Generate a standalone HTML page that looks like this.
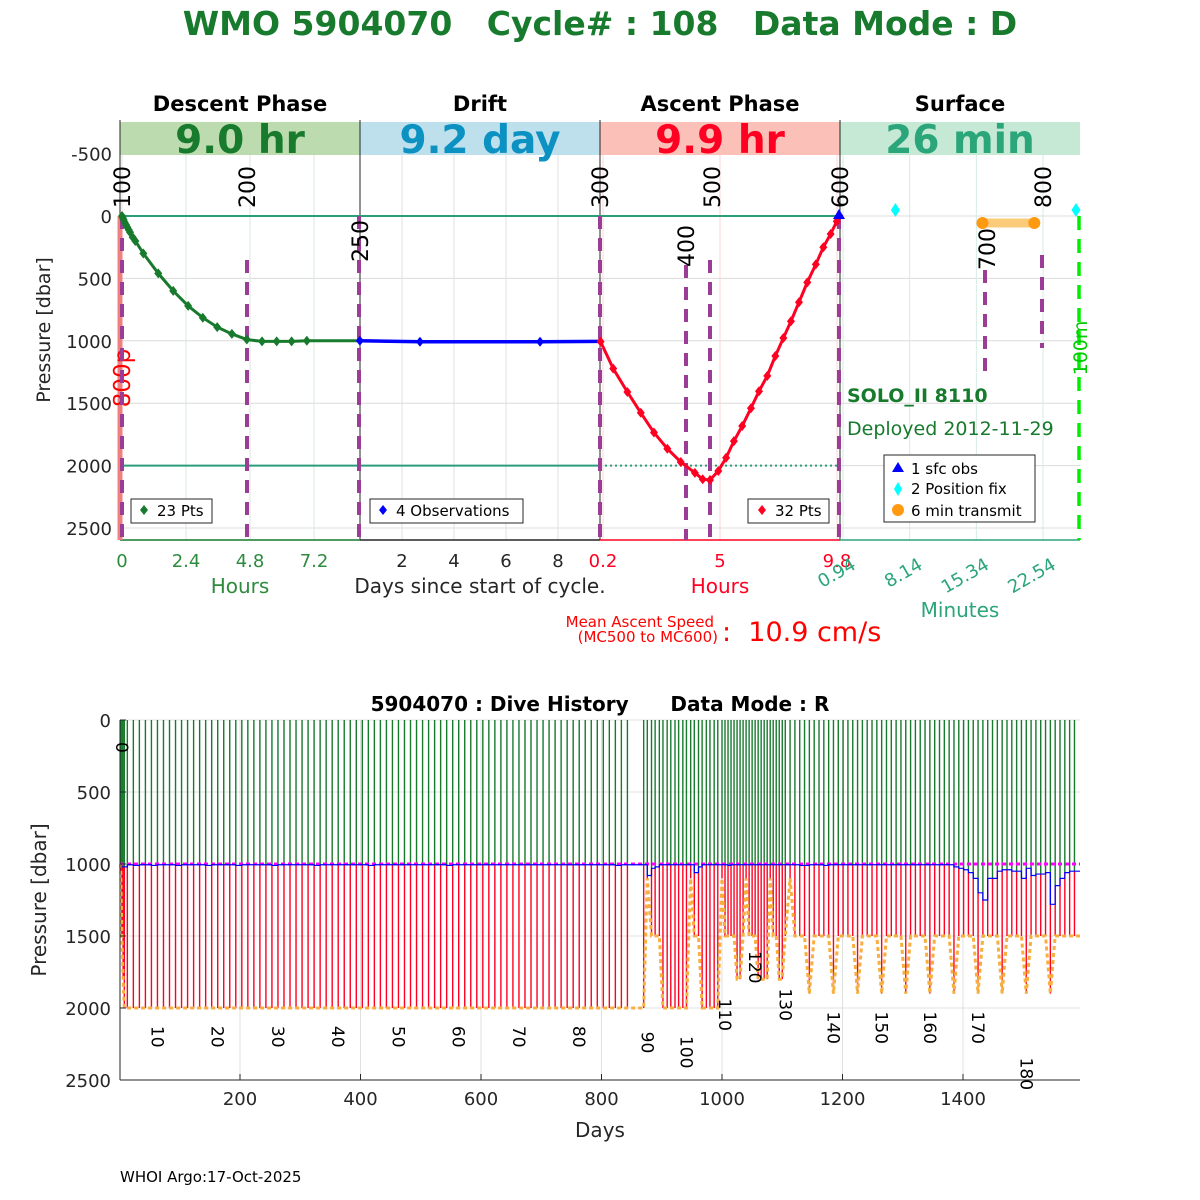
<!DOCTYPE html>
<html><head><meta charset="utf-8"><style>
html,body{margin:0;padding:0;background:#fff;}
svg{display:block;font-family:"DejaVu Sans","Liberation Sans",sans-serif;}
</style></head><body>
<svg id="chart" width="1200" height="1200" viewBox="0 0 1200 1200" xmlns="http://www.w3.org/2000/svg">
<defs><clipPath id="histclip"><rect x="119" y="719" width="962" height="362"/></clipPath></defs>
</svg>
<script>
// ---------- top chart data ----------
const yTicksTop = [-500, 0, 500, 1000, 1500, 2000, 2500];
const descentHours = [0,0.03,0.06,0.1,0.15,0.2,0.25,0.3,0.4,0.5,0.8,1.36,1.92,2.48,3.03,3.57,4.12,4.68,5.25,5.8,6.36,6.93];
const descentPres = [0,15,30,50,70,90,110,130,170,200,300,460,600,720,815,890,945,990,1005,1005,1005,1000];
const driftDays = [0.38,2.69,7.31,9.62];
const driftPres = [1000,1008,1008,1005];
const ascentHours = [0.1,0.62,1.2,1.75,2.29,2.84,3.39,3.97,4.29,4.59,4.93,5.25,5.57,5.91,6.27,6.6,6.94,7.27,7.6,7.91,8.24,8.58,8.93,9.24,9.54,9.79,9.9];
const ascentPres = [1007,1223,1410,1577,1735,1865,1971,2058,2109,2115,2043,1937,1804,1683,1540,1404,1281,1122,978,843,691,532,388,250,144,43,0];
const descentTicks = ["0","2.4","4.8","7.2"];
const descentTickVals = [0,2.4,4.8,7.2];
const driftTickVals = [2,4,6,8];
const ascentTickVals = [0.2,5,9.8];
const surfaceTickVals = [0.94,8.14,15.34,22.54];
const fixMinutes = [6.6,26.1];
const transmitMinutes = [16.0,21.6];

// ---------- dive history data (one row = 10 cycles) ----------
const cycleDays = [
2,4,6,8,13,23,33,43,53,63,
73,83,93,103,113,123,133,143,153,163,
173,183,193,203,213,223,233,243,253,263,
273,283,293,303,313,323,333,343,353,363,
373,383,393,403,413,423,433,443,453,463,
473,483,493,503,513,523,533,543,553,563,
573,583,593,603,613,623,633,643,653,663,
673,683,693,703,713,723,733,743,753,763,
773,783,793,803,813,823,833,843,870,876,
883,889,896,902,909,915,922,928,935,941,
948,954,961,967,974,980,987,993,1000,1005,
1010,1015,1020,1025,1030,1035,1040,1045,1050,1055,
1060,1065,1070,1075,1080,1085,1090,1095,1100,1105,
1113,1121,1129,1137,1145,1153,1161,1169,1177,1185,
1193,1201,1209,1217,1225,1233,1241,1249,1257,1265,
1273,1281,1289,1297,1305,1313,1321,1329,1337,1345,
1353,1361,1369,1377,1385,1393,1401,1409,1417,1425,
1433,1441,1449,1457,1465,1473,1481,1489,1497,1505,
1513,1521,1529,1537,1545,1553,1561,1569,1577,1585];
const profilePres = [
1050,1500,1800,2000,2000,2000,2000,2000,2000,2000,
2000,2000,2000,2000,2000,2000,2000,2000,2000,2000,
2000,2000,2000,2000,2000,2000,2000,2000,2000,2000,
2000,2000,2000,2000,2000,2000,2000,2000,2000,2000,
2000,2000,2000,2000,2000,2000,2000,2000,2000,2000,
2000,2000,2000,2000,2000,2000,2000,2000,2000,2000,
2000,2000,2000,2000,2000,2000,2000,2000,2000,2000,
2000,2000,2000,2000,2000,2000,2000,2000,2000,2000,
2000,2000,2000,2000,2000,2000,2000,2000,2000,1100,
1500,1500,1500,2000,2000,2000,2000,2000,2000,2000,
1100,1500,1500,2000,2000,2000,2000,2000,1100,1500,
1500,1500,1500,1800,1800,1500,1100,1500,1500,1500,
1800,1800,1800,1800,1100,1500,1500,1800,1800,1500,
1100,1500,1500,1500,1900,1500,1500,1500,1500,1900,
1500,1500,1500,1500,1900,1500,1500,1500,1500,1900,
1500,1500,1500,1500,1900,1500,1500,1500,1500,1900,
1500,1500,1500,1500,1900,1500,1500,1500,1500,1900,
1500,1500,1500,1500,1900,1500,1500,1500,1500,1900,
1500,1500,1500,1500,1900,1500,1500,1500,1500,1500];
const parkPres = [
1020,1020,1020,1020,1005,1010,1005,1005,1010,1005,
1005,1005,1010,1005,1005,1005,1005,1010,1005,1005,
1005,1005,1010,1005,1005,1005,1005,1005,1010,1005,
1005,1005,1005,1005,1005,1010,1005,1005,1005,1005,
1005,1005,1005,1005,1010,1005,1005,1005,1005,1005,
1005,1005,1005,1005,1005,1005,1005,1010,1005,1005,
1005,1005,1005,1005,1005,1005,1005,1005,1005,1005,
1005,1005,1005,1005,1005,1005,1005,1005,1005,1005,
1005,1005,1005,1005,1005,1010,1005,1005,1005,1080,
1030,1020,1005,1005,1005,1005,1005,1005,1005,1005,
1005,1060,1020,1005,1005,1005,1005,1005,1005,1005,
1010,1005,1005,1005,1005,1005,1005,1005,1005,1005,
1005,1005,1005,1005,1005,1005,1005,1005,1005,1005,
1005,1005,1010,1010,1005,1005,1005,1010,1005,1005,
1005,1005,1005,1005,1005,1005,1005,1005,1005,1005,
1005,1005,1005,1005,1005,1005,1005,1005,1005,1005,
1005,1005,1005,1005,1020,1030,1040,1060,1100,1200,
1250,1100,1100,1050,1040,1040,1050,1050,1100,1030,
1080,1070,1070,1060,1280,1150,1100,1060,1050,1050];
const cycleLabels = [10,20,30,40,50,60,70,80,90,100,110,120,130,140,150,160,170,180];
const cycleLabelPres = [2180,2180,2180,2180,2180,2180,2180,2180,2220,2250,1990,1660,1920,2080,2080,2080,2080,2400];
const yTicksBottom = [0,500,1000,1500,2000,2500];
const xTicksBottom = [200,400,600,800,1000,1200,1400];

const NS = "http://www.w3.org/2000/svg";
const svg = document.getElementById('chart');
function mk(tag, attrs, nm, parent) {
  const el = document.createElementNS(NS, tag);
  for (const k in attrs) el.setAttribute(k, attrs[k]);
  
  
  (parent || svg).appendChild(el);
  return el;
}
function txt(x, y, s, nm, style, rot) {
  const el = mk('text', {x: x, y: y}, nm);
  el.setAttribute('style', style);
  if (rot !== undefined) el.setAttribute('transform', 'rotate(' + rot + ' ' + x + ' ' + y + ')');
  el.textContent = s;
  return el;
}
function ln(x1, y1, x2, y2, stroke, w, nm, dash, parent) {
  const a = {x1: x1, y1: y1, x2: x2, y2: y2, stroke: stroke, 'stroke-width': w};
  if (dash) a['stroke-dasharray'] = dash;
  return mk('line', a, nm, parent);
}

// ---------- top scales ----------
const Y = p => 216 + p * 0.1248;
const XD = h => 122 + h * 26.67;
const XF = d => 350 + d * 26;
const XA = h => 603 + (h - 0.2) * 24.375;
const XS = m => 843 + (m - 0.94) * 9.26;

txt(600, 35, "WMO 5904070   Cycle# : 108   Data Mode : D", "main-title", "font-size:33px;font-weight:bold;fill:#177a2d;text-anchor:middle;white-space:pre");

const panels = [[120,"Descent Phase","9.0 hr","#bcdcb0","#177a2d"],[360,"Drift","9.2 day","#bde0ec","#0b91c2"],[600,"Ascent Phase","9.9 hr","#fbc0b8","#ff0022"],[840,"Surface","26 min","#c6e9d6","#2ba57a"]];
panels.forEach((p, i) => {
  txt(p[0] + 120, 111, p[1], "phase-heading", "font-size:21px;font-weight:bold;fill:#000;text-anchor:middle");
  mk('rect', {x: p[0], y: 122, width: 240, height: 33, fill: p[3]}, "phase-band");
  txt(p[0] + 120, 153, p[2], "phase-duration", "font-size:39px;font-weight:bold;fill:" + p[4] + ";text-anchor:middle");
});

yTicksTop.forEach(v => { if (v > -500) ln(120, Y(v), 1080, Y(v), "#dcdcdc", 1, "y-grid"); });
descentTickVals.forEach(v => ln(XD(v), 155, XD(v), 540, "#d8eadb", 1, "x-grid-descent"));
driftTickVals.forEach(v => ln(XF(v), 155, XF(v), 540, "#e2e2e2", 1, "x-grid-drift"));
ascentTickVals.forEach(v => ln(XA(v), 155, XA(v), 540, "#fbd4d4", 1, "x-grid-ascent"));
surfaceTickVals.forEach(v => ln(XS(v), 155, XS(v), 540, "#d6ebe4", 1, "x-grid-surface"));

yTicksTop.forEach(v => txt(112, Y(v) + 7, String(v), "y-tick-label", "font-size:18px;fill:#262626;text-anchor:end"));
txt(50, 330, "Pressure [dbar]", "y-axis-title", "font-size:19px;fill:#262626;text-anchor:middle", -90);

ln(120, 120, 120, 540, "#262626", 1, "y-axis-line");
ln(360, 120, 360, 540, "#262626", 1, "drift-divider");
ln(600, 120, 600, 540, "#262626", 1, "ascent-divider");
ln(840, 120, 840, 540, "#262626", 1, "surface-divider");
ln(120, 540, 360, 540, "#177a2d", 1.5, "x-axis-descent");
ln(360, 540, 600, 540, "#262626", 1.5, "x-axis-drift");
ln(600, 540, 840, 540, "#ff0022", 1.5, "x-axis-ascent");
ln(840, 540, 1080, 540, "#2ba57a", 1.5, "x-axis-surface");

ln(120, Y(0), 840, Y(0), "#2a9d7a", 2, "surface-line");
ln(120, Y(2000), 600, Y(2000), "#2a9d7a", 2, "profile-target-line");
ln(600, Y(2000), 840, Y(2000), "#2a9d7a", 2, "profile-target-line-dotted", "2 3");
ln(120, Y(0), 120, 540, "#f08080", 5, "red-start-bar");
txt(130, 378, "800p", "park-label", "font-size:23px;fill:#ff0000;text-anchor:middle", -90);

const pd = "#9b3c96";
[[122,216],[247,260],[359,216],[600,216],[686,265],[710,260],[839,216]].forEach(a => ln(a[0], a[1], a[0], 540, pd, 4, "event-marker", "13 9"));
ln(985, 270, 985, 380, pd, 4, "event-marker", "13 9");
ln(1042, 255, 1042, 348, pd, 4, "event-marker", "13 9");
ln(1079, 216, 1079, 540, "#00ee00", 3.5, "depth-100m-line", "14 9");
txt(1087, 348, "100m", "depth-100m-label", "font-size:19px;fill:#00cc00;text-anchor:middle", -90);

[[130,"100",166],[255,"200",166],[368,"250",220],[608,"300",166],[694,"400",225],[720,"500",166],[848,"600",166],[995,"700",228],[1051,"800",166]].forEach(a => {
  txt(a[0], a[2], a[1], "event-number", "font-size:22px;fill:#000;text-anchor:end", -90);
});

mk('polyline', {points: descentHours.map((h, i) => XD(h) + ',' + Y(descentPres[i])).join(' ') + ' ' + XD(9) + ',' + Y(1000), fill: 'none', stroke: '#177a2d', 'stroke-width': 3}, "descent-line");
descentHours.forEach((h, i) => mk('path', {d: 'M' + XD(h) + ' ' + (Y(descentPres[i]) - 5) + 'l4 5l-4 5l-4 -5z', fill: '#177a2d'}, "descent-point"));
mk('polyline', {points: driftDays.map((d, i) => XF(d) + ',' + Y(driftPres[i])).join(' '), fill: 'none', stroke: '#0000ff', 'stroke-width': 3.5}, "drift-line");
driftDays.slice(0, 3).forEach((d, i) => mk('path', {d: 'M' + XF(d) + ' ' + (Y(driftPres[i]) - 5) + 'l4 5l-4 5l-4 -5z', fill: '#0000ff'}, "drift-point"));
mk('polyline', {points: ascentHours.map((h, i) => XA(h) + ',' + Y(ascentPres[i])).join(' '), fill: 'none', stroke: '#ff0022', 'stroke-width': 3}, "ascent-line");
ascentHours.forEach((h, i) => mk('path', {d: 'M' + XA(h) + ' ' + (Y(ascentPres[i]) - 5) + 'l4 5l-4 5l-4 -5z', fill: '#ff0022'}, "ascent-point"));
mk('path', {d: 'M839 209l6 10h-12z', fill: '#0000ff'}, "sfc-obs-marker");
fixMinutes.forEach(m => mk('path', {d: 'M' + XS(m) + ' 203l4.5 7l-4.5 7l-4.5 -7z', fill: '#00ffff'}, "position-fix-marker"));
ln(XS(transmitMinutes[0]), 223, XS(transmitMinutes[1]), 223, "#fbcb7a", 9, "transmit-bar");
transmitMinutes.forEach(m => mk('circle', {cx: XS(m), cy: 223, r: 6, fill: '#ff9a10'}, "transmit-marker"));

function legendBox(x, y, w, h) { mk('rect', {x: x, y: y, width: w, height: h, fill: '#fff', stroke: '#262626', 'stroke-width': 1}, "legend-box"); }
legendBox(131, 499, 81, 24);
mk('path', {d: 'M144 505l4 5l-4 5l-4 -5z', fill: '#177a2d'}, "legend-descent-marker");
txt(157, 516, "23 Pts", "legend-descent-text", "font-size:15px;fill:#000");
legendBox(370, 499, 153, 24);
mk('path', {d: 'M383 505l4 5l-4 5l-4 -5z', fill: '#0000ff'}, "legend-drift-marker");
txt(396, 516, "4 Observations", "legend-drift-text", "font-size:15px;fill:#000");
legendBox(748, 499, 81, 24);
mk('path', {d: 'M762 505l4 5l-4 5l-4 -5z', fill: '#ff0022'}, "legend-ascent-marker");
txt(775, 516, "32 Pts", "legend-ascent-text", "font-size:15px;fill:#000");
legendBox(884, 455, 151, 67);
mk('path', {d: 'M898 462l6 10h-12z', fill: '#0000ff'}, "legend-sfc-marker");
txt(911, 474, "1 sfc obs", "legend-sfc-text", "font-size:15px;fill:#000");
mk('path', {d: 'M898 482l4 7l-4 7l-4 -7z', fill: '#00ffff'}, "legend-fix-marker");
txt(911, 494, "2 Position fix", "legend-fix-text", "font-size:15px;fill:#000");
mk('circle', {cx: 898, cy: 510, r: 6, fill: '#ff9a10'}, "legend-transmit-marker");
txt(911, 516, "6 min transmit", "legend-transmit-text", "font-size:15px;fill:#000");

txt(847, 402, "SOLO_II 8110", "float-model", "font-size:19px;font-weight:bold;fill:#177a2d");
txt(847, 435, "Deployed 2012-11-29", "deploy-date", "font-size:19px;fill:#177a2d");

descentTickVals.forEach((v, i) => txt(XD(v), 567, descentTicks[i], "descent-tick", "font-size:18px;fill:#2e8b3e;text-anchor:middle"));
driftTickVals.forEach(v => txt(XF(v), 567, String(v), "drift-tick", "font-size:18px;fill:#262626;text-anchor:middle"));
ascentTickVals.forEach(v => txt(XA(v), 567, String(v), "ascent-tick", "font-size:18px;fill:#ff0022;text-anchor:middle"));
surfaceTickVals.forEach(v => txt(XS(v) + 14, 568, String(v), "surface-tick", "font-size:18px;fill:#2ba57a;text-anchor:end", -30));
txt(240, 593, "Hours", "descent-x-title", "font-size:20px;fill:#2e8b3e;text-anchor:middle");
txt(480, 593, "Days since start of cycle.", "drift-x-title", "font-size:20px;fill:#262626;text-anchor:middle");
txt(720, 593, "Hours", "ascent-x-title", "font-size:20px;fill:#ff0022;text-anchor:middle");
txt(960, 617, "Minutes", "surface-x-title", "font-size:20px;fill:#2ba57a;text-anchor:middle");
txt(714, 627, "Mean Ascent Speed", "ascent-speed-label", "font-size:15px;fill:#ff0000;text-anchor:end");
txt(718, 642, "(MC500 to MC600)", "ascent-speed-sublabel", "font-size:15px;fill:#ff0000;text-anchor:end");
txt(722, 641, ":  10.9 cm/s", "ascent-speed-value", "font-size:27px;fill:#ff0000;white-space:pre");

// ---------- bottom chart ----------
const XB = d => 119.5 + d * 0.6025;
const YB = p => 720 + p * 0.144;
txt(600, 711, "5904070 : Dive History      Data Mode : R", "history-title", "font-size:20px;font-weight:bold;fill:#000;text-anchor:middle;white-space:pre");
yTicksBottom.forEach(v => ln(120, YB(v), 1080, YB(v), "#e0e0e0", 1, "history-y-grid"));
xTicksBottom.forEach(v => ln(XB(v), 720, XB(v), 1080, "#e0e0e0", 1, "history-x-grid"));
const plotG = mk('g', {'clip-path': 'url(#histclip)'}, "history-plot-area");
const nCyc = Math.min(cycleDays.length, profilePres.length, parkPres.length);
for (let i = 0; i < nCyc; i++) {
  const d = cycleDays[i];
  ln(XB(d), YB(0), XB(d), YB(parkPres[i]), "#177a2d", 1.4, "descent-stem", null, plotG);
  ln(XB(d), YB(parkPres[i]), XB(d), YB(profilePres[i]), "#ff0022", 1.4, "ascent-stem", null, plotG);
}
ln(120, YB(1000), 1080, YB(1000), "#ff00ff", 3, "park-target-line", "4 3", plotG);
let bp = "M" + XB(0) + " " + YB(parkPres[0]);
for (let i = 0; i < nCyc; i++) { bp += " H" + XB(cycleDays[i]) + " V" + YB(parkPres[i]); }
bp += " H1080";
mk('path', {d: bp, fill: 'none', stroke: '#0000ff', 'stroke-width': 1.2}, "park-pressure-line", plotG);
let op = XB(0) + ',' + YB(1000);
for (let i = 0; i < nCyc; i++) { op += ' ' + XB(cycleDays[i]) + ',' + YB(profilePres[i]); }
op += ' 1080,' + YB(1500);
mk('polyline', {points: op, fill: 'none', stroke: '#f7b040', 'stroke-width': 3, 'stroke-dasharray': '4 3'}, "profile-depth-line", plotG);
ln(120, 720, 120, 1080, "#262626", 1, "history-y-axis");
ln(120, 1080, 1080, 1080, "#262626", 1, "history-x-axis");
yTicksBottom.forEach(v => { ln(120, YB(v), 126, YB(v), "#262626", 1, "history-y-tick"); txt(111, YB(v) + 7, String(v), "history-y-tick-label", "font-size:18px;fill:#262626;text-anchor:end"); });
xTicksBottom.forEach(v => { ln(XB(v), 1080, XB(v), 1074, "#262626", 1, "history-x-tick"); txt(XB(v), 1105, String(v), "history-x-tick-label", "font-size:18px;fill:#262626;text-anchor:middle"); });
txt(600, 1137, "Days", "history-x-title", "font-size:20px;fill:#262626;text-anchor:middle");
txt(46, 900, "Pressure [dbar]", "history-y-title", "font-size:20px;fill:#262626;text-anchor:middle", -90);
txt(116, 742, "0", "cycle-label", "font-size:17px;fill:#000", 90);
cycleLabels.forEach((c, i) => txt(XB(cycleDays[c - 1]) - 6, YB(cycleLabelPres[i]) - 8, String(c), "cycle-label", "font-size:17px;fill:#000", 90));
txt(120, 1182, "WHOI Argo:17-Oct-2025", "footer-credit", "font-size:15px;fill:#000");
</script>
</body></html>
